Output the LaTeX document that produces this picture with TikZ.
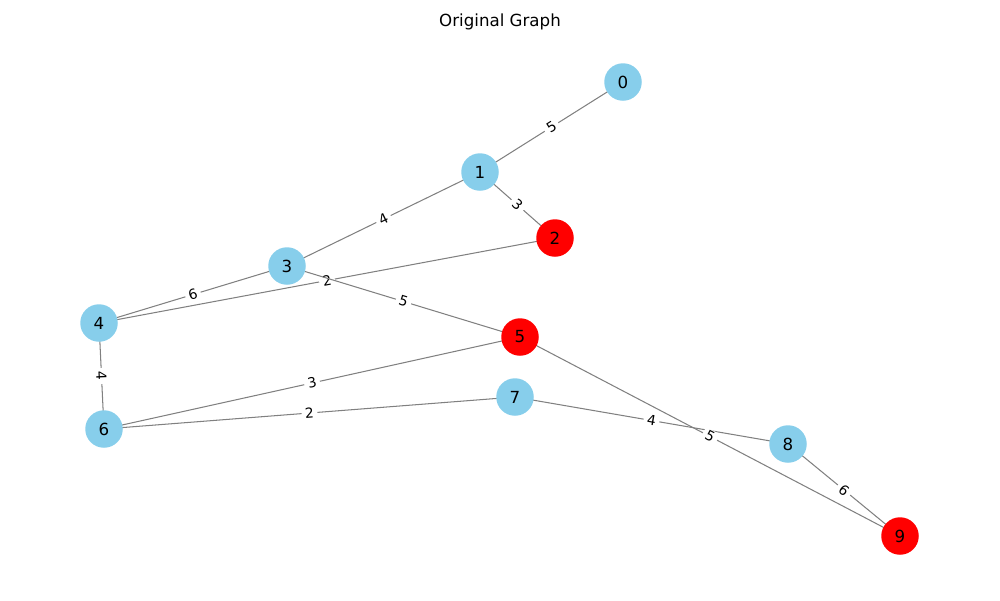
\documentclass[tikz,border=0pt]{standalone}
\usepackage{fontspec}
\setmainfont{DejaVu Sans}
\begin{document}
\begin{tikzpicture}[x=0.72pt,y=-0.72pt,
  vtx/.style={circle,minimum size=27pt,inner sep=0pt,font=\fontsize{12}{14}\selectfont},
  blue/.style={vtx,fill={rgb,255:red,135;green,206;blue,235}},
  redv/.style={vtx,fill=red},
  edge/.style={draw={rgb,255:red,128;green,128;blue,128},line width=0.75pt},
  wlab/.style={midway,sloped,fill=white,inner xsep=2.5pt,inner ysep=1pt,font=\fontsize{10}{12}\selectfont}]
\useasboundingbox (0,0) rectangle (1000,600);
\node (title) at (500,22) {\fontsize{12}{14}\selectfont Original Graph};
\coordinate (p0) at (623,82);
\coordinate (p1) at (480,172);
\coordinate (p2) at (555,238);
\coordinate (p3) at (287,266);
\coordinate (p4) at (99,323);
\coordinate (p5) at (520,337);
\coordinate (p6) at (104,429);
\coordinate (p7) at (515,397);
\coordinate (p8) at (788,444);
\coordinate (p9) at (900,536);
\draw[edge] (p0) -- node[wlab]{5} (p1);
\draw[edge] (p1) -- node[wlab]{3} (p2);
\draw[edge] (p1) -- node[wlab]{4} (p3);
\draw[edge] (p3) -- node[wlab]{6} (p4);
\draw[edge] (p4) -- node[wlab]{2} (p2);
\draw[edge] (p3) -- node[wlab]{5} (p5);
\draw[edge] (p4) -- node[wlab]{4} (p6);
\draw[edge] (p6) -- node[wlab]{3} (p5);
\draw[edge] (p6) -- node[wlab]{2} (p7);
\draw[edge] (p7) -- node[wlab]{4} (p8);
\draw[edge] (p5) -- node[wlab]{5} (p9);
\draw[edge] (p8) -- node[wlab]{6} (p9);
\node[blue] (n0) at (p0) {0};
\node[blue] (n1) at (p1) {1};
\node[redv] (n2) at (p2) {2};
\node[blue] (n3) at (p3) {3};
\node[blue] (n4) at (p4) {4};
\node[redv] (n5) at (p5) {5};
\node[blue] (n6) at (p6) {6};
\node[blue] (n7) at (p7) {7};
\node[blue] (n8) at (p8) {8};
\node[redv] (n9) at (p9) {9};
\end{tikzpicture}
\end{document}
